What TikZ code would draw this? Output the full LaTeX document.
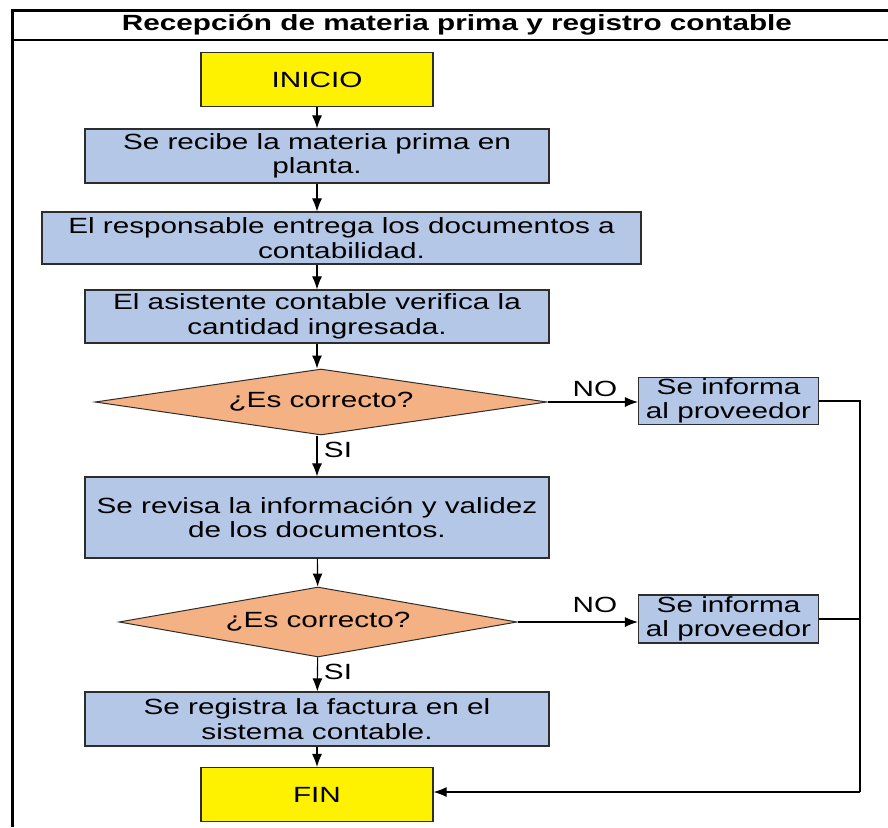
\documentclass[tikz,border=0pt]{standalone}
\usepackage{fontspec}
\setmainfont[FakeStretch=1.35]{Liberation Sans}
\usepackage{tikz}
\usetikzlibrary{shapes.geometric,arrows.meta}
\definecolor{boxblue}{RGB}{180,199,231}
\definecolor{decorange}{RGB}{244,177,131}
\definecolor{edge}{RGB}{45,45,45}
\tikzstyle{txt}=[font=\fontsize{22}{24.5}\selectfont,align=center]
\tikzstyle{step box}=[txt,rectangle,draw=edge,line width=1.2pt,fill=boxblue,inner sep=1pt]
\tikzstyle{term}=[txt,rectangle,draw=edge,line width=1.2pt,fill=yellow,minimum width=232,minimum height=54]
\tikzstyle{decide}=[txt,diamond,draw=edge,line width=1pt,fill=decorange,aspect=7,inner sep=0pt]
\tikzstyle{flow}=[->,>={Latex[length=13pt,width=10pt]},line width=1.1pt]

\begin{document}
\begin{tikzpicture}[x=1pt,y=-1pt]
  \useasboundingbox (0,0) rectangle (888,827);
  % frame and title band
  \draw[line width=3pt] (12,827) -- (12,10) -- (888,10);
  \draw[line width=2pt] (12,39.5) -- (888,39.5);
  \node[txt,font=\fontsize{22}{24.5}\selectfont\bfseries] (title) at (457,25) {Recepción de materia prima y registro contable};

  \node[term] (ini) at (317,79.5) {INICIO};
  \node[step box,minimum width=464,minimum height=54] (b1) at (317,156) {Se recibe la materia prima en\\planta.};
  \node[step box,minimum width=599,minimum height=52] (b2) at (341.5,238) {El responsable entrega los documentos a\\contabilidad.};
  \node[step box,minimum width=464,minimum height=53] (b3) at (317,316.5) {El asistente contable verifica la\\cantidad ingresada.};
  \node[decide,minimum width=452,minimum height=66] (d1) at (321,402) {¿Es correcto?};
  \node[step box,minimum width=464,minimum height=81] (b4) at (317,517.5) {Se revisa la información y validez\\de los documentos.};
  \node[decide,minimum width=398,minimum height=70] (d2) at (318,622) {¿Es correcto?};
  \node[step box,minimum width=464,minimum height=54] (b5) at (317,719) {Se registra la factura en el\\sistema contable.};
  \node[term] (fin) at (317,794.5) {FIN};

  \node[step box,minimum width=180,minimum height=46] (inf1) at (728.5,401) {Se informa\\al proveedor};
  \node[step box,minimum width=180,minimum height=48] (inf2) at (728.5,619) {Se informa\\al proveedor};

  \node[txt] (no1) at (595,389) {NO};
  \node[txt] (si1) at (338,450) {SI};
  \node[txt] (no2) at (595,605) {NO};
  \node[txt] (si2) at (338,672) {SI};

  \coordinate (ret) at (860,792);

  \draw[flow] (ini) -- (b1);
  \draw[flow] (b1.south) -- (b1.south |- b2.north);
  \draw[flow] (b2.south -| b3.north) -- (b3.north);
  \draw[flow] (b3.south) -- (b3.south |- d1.north);
  \draw[flow] (d1.south -| b4.north) -- (b4.north);
  \draw[flow] (b4) -- (d2);
  \draw[flow] (d2) -- (b5);
  \draw[flow] (b5) -- (fin);
  \draw[flow] (d1.east) -- (d1.east -| inf1.west);
  \draw[flow] (d2.east) -- (d2.east -| inf2.west);
  \draw[line width=1.1pt] (inf1.east) -| (ret);
  \draw[line width=1.1pt] (inf2.east) -- (inf2.east -| ret);
  \draw[flow] (ret) -- (ret -| fin.east);
\end{tikzpicture}
\end{document}
